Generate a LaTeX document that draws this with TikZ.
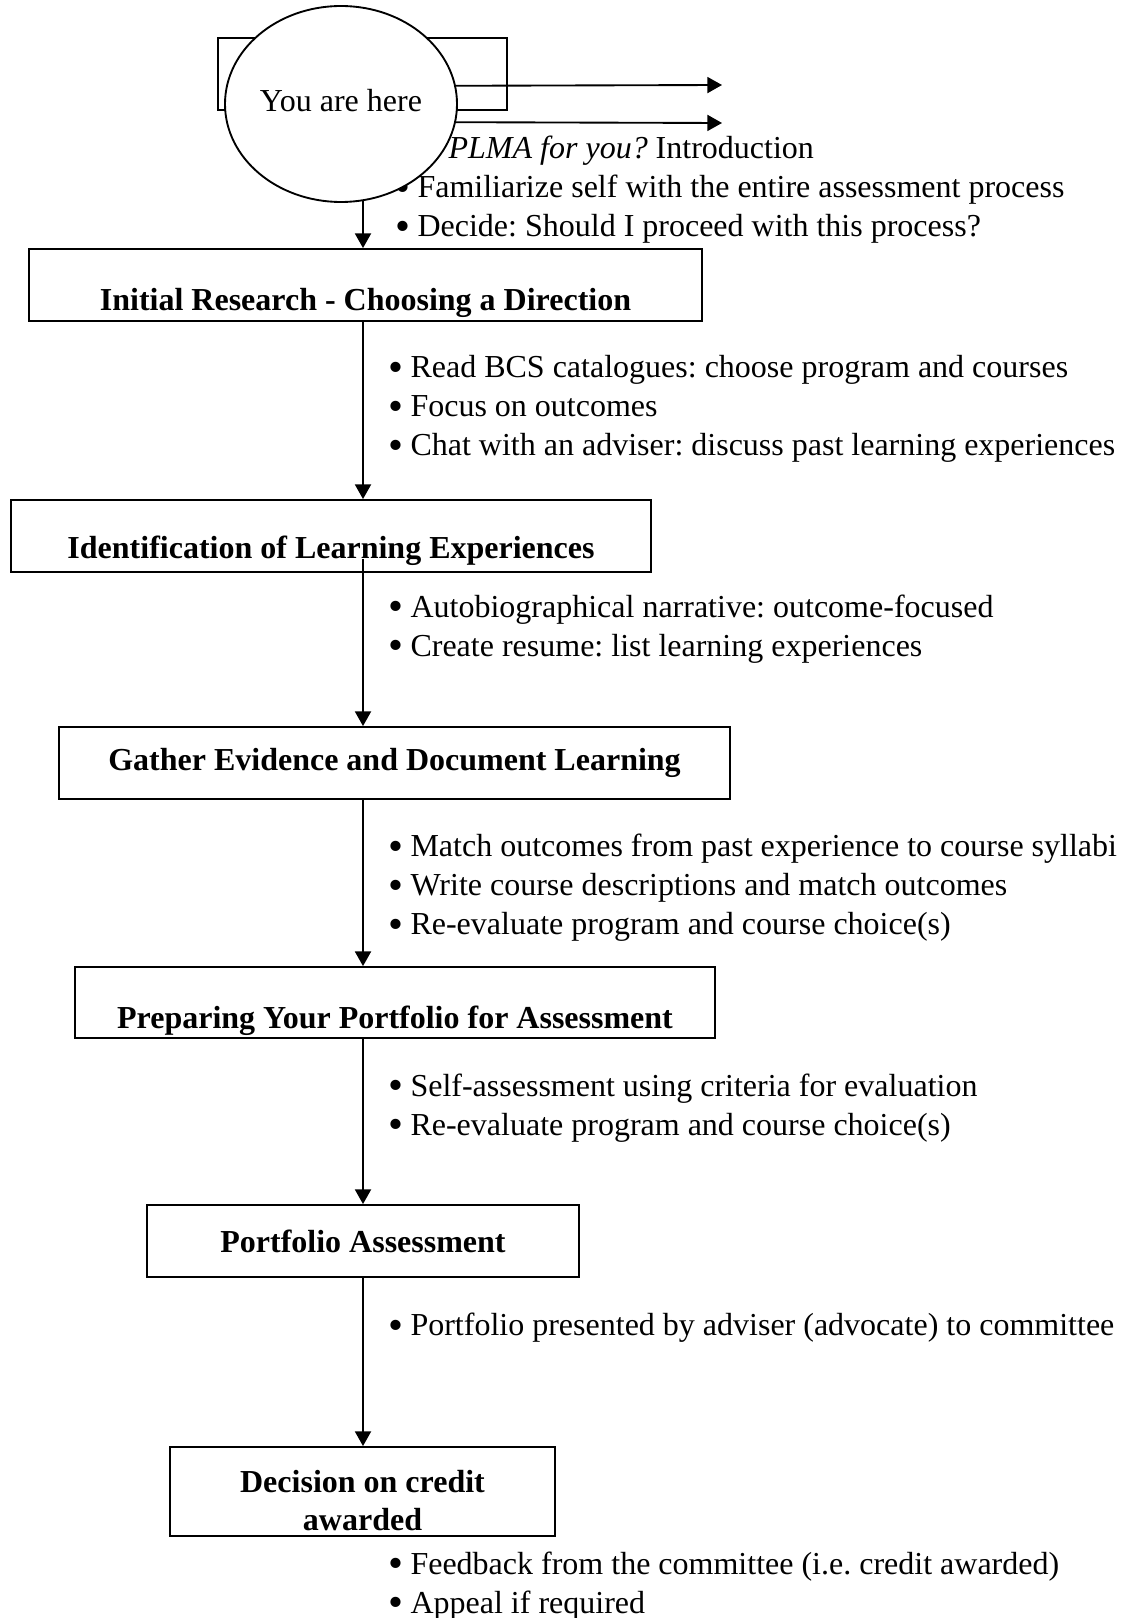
\documentclass[tikz,border=0pt]{standalone}
\usepackage{fontspec}
\setmainfont{Liberation Serif}
\usepackage{tikz}
\usetikzlibrary{arrows.meta,shapes.geometric}
\frenchspacing
\newcommand{\bul}{\makebox[8.25pt][l]{\raisebox{-1.3pt}{\fontsize{16}{16}\selectfont\textbullet}}}
\newcommand{\sink}[2]{\raisebox{-#1}[\height][\depth]{#2}}

\begin{document}
\begin{tikzpicture}[x=0.375pt,y=-0.375pt,
  stepbox/.style={draw,line width=0.7pt,minimum height=27pt,inner sep=0pt,align=center,font=\bfseries\fontsize{12}{13.9}\selectfont},
  notes/.style={anchor=west,align=left,inner sep=0pt,font=\fontsize{12}{14.6}\selectfont},
  flow/.style={line width=0.7pt,-{Triangle[length=5.5pt,width=6pt]}}]
\useasboundingbox (0,0) rectangle (1134,1618);
\coordinate (spine) at (363,0);
\coordinate (r1) at (722,85);
\coordinate (r2) at (722,123);
\node[draw,line width=0.7pt,minimum width=108.4pt,minimum height=27pt] (tab) at (362.5,74) {};
\node[notes] (intro) at (395,190) {\bul\textit{Is PLMA for you?} Introduction\\
  \bul Familiarize self with the entire assessment process\\
  \bul Decide: Should I proceed with this process?};
\node[ellipse,draw,line width=0.7pt,fill=white,minimum width=87pt,minimum height=73.5pt,inner sep=0pt,
  font=\fontsize{12}{14.6}\selectfont] (you) at (341,104) {\sink{-1.4pt}{You are here}};
\draw[flow] (you.9.5) -- (r1);
\draw[flow] (you.-9.5) -- (r2);

\node[stepbox,minimum width=252.4pt] (initial) at (365.5,285) {\sink{6.9pt}{Initial Research - Choosing a Direction}};
\node[notes] (read) at (388,409) {\bul Read BCS catalogues: choose program and courses\\
  \bul Focus on outcomes\\
  \bul Chat with an adviser: discuss past learning experiences};
\node[stepbox,minimum width=240pt] (ident) at (331,536) {\sink{5.7pt}{Identification of Learning Experiences}};
\node[notes] (narr) at (388,629) {\bul Autobiographical narrative: outcome-focused\\
  \bul Create resume: list learning experiences};
\node[stepbox,minimum width=251.6pt] (gather) at (394.5,763) {Gather Evidence and Document Learning};
\node[notes] (match) at (388,888) {\bul Match outcomes from past experience to course syllabi\\
  \bul Write course descriptions and match outcomes\\
  \bul Re-evaluate program and course choice(s)};
\node[stepbox,minimum width=240pt,minimum height=26.6pt] (prep) at (395,1002.5) {\sink{6.7pt}{Preparing Your Portfolio for Assessment}};
\node[notes] (self) at (388,1108) {\bul Self-assessment using criteria for evaluation\\
  \bul Re-evaluate program and course choice(s)};
\node[stepbox,minimum width=162pt] (assess) at (363,1241) {Portfolio Assessment};
\node[notes] (present) at (388,1328) {\bul Portfolio presented by adviser (advocate) to committee};
\node[stepbox,minimum width=144.4pt,minimum height=33.4pt] (decide) at (362.5,1491.5) {\sink{3.4pt}{Decision on credit}\\ \sink{3.4pt}{awarded}};
\node[notes] (feed) at (388,1586) {\bul Feedback from the committee (i.e. credit awarded)\\
  \bul Appeal if required};

\draw[flow,shorten <=-0.7pt] (you.south -| spine) -- (initial.north -| spine);
\draw[flow] (initial.south -| spine) -- (ident.north -| spine);
\draw[flow,shorten <=-5.3pt] (ident.south -| spine) -- (gather.north -| spine);
\draw[flow] (gather.south -| spine) -- (prep.north -| spine);
\draw[flow] (prep.south -| spine) -- (assess.north -| spine);
\draw[flow] (assess.south -| spine) -- (decide.north -| spine);
\end{tikzpicture}
\end{document}
